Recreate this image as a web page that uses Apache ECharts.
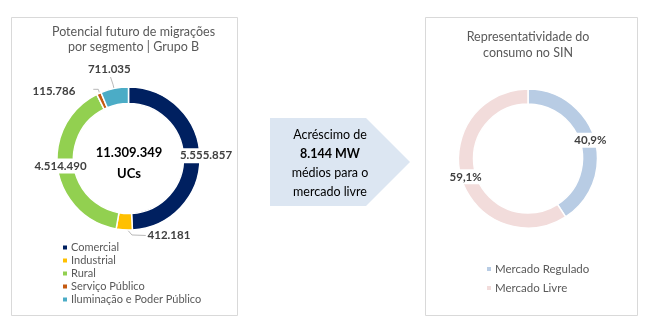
<!DOCTYPE html>
<html>
<head>
<meta charset="utf-8">
<script src="https://cdn.jsdelivr.net/npm/echarts@6/dist/echarts.min.js"></script>
<style>
html,body{margin:0;padding:0;background:#fff;}
#chart{width:648px;height:330px;}
</style>
</head>
<body>
<div id="chart"></div>
<script>
// ---- data ----
const segCategories = ['Comercial', 'Industrial', 'Rural', 'Serviço Público', 'Iluminação e Poder Público'];
const segValues = [5555857, 412181, 4514490, 115786, 711035];
const totalUnit = 'UCs';
const mktCategories = ['Mercado Regulado', 'Mercado Livre'];
const mktValues = [40.9, 59.1];
const arrowLines = ['Acréscimo de', '8.144 MW', 'médios para o', 'mercado livre'];
const titleLeft = ['Potencial futuro de migrações', 'por segmento | Grupo B'];
const titleRight = ['Representatividade do', 'consumo no SIN'];

// ---- styles ----
const segColors = ['#002060', '#FFC000', '#92D050', '#C55A11', '#4BACC6'];
const mktColors = ['#B8CCE4', '#F2DCDB'];
const FONT = 'Lato';
const C1 = [128.5, 158.5], R1 = [55, 71.5];
const C2 = [528, 158.5], R2 = [54.5, 69.5];

function fmt(v) { return String(v).replace(/\B(?=(\d{3})+(?!\d))/g, '.'); }
function polar(c, r, deg) { const a = deg * Math.PI / 180; return [c[0] + r * Math.sin(a), c[1] - r * Math.cos(a)]; }

const total = segValues.reduce((a, b) => a + b, 0);
const midAngles = [];
{ let cum = 0; segValues.forEach(v => { midAngles.push((cum + v / 2) / total * 360); cum += v; }); }

// label placement relative to the outer edge point at each slice's mid angle
const labelOff = [[6, -0.8], [44.7, 5.6], [2.8, -2.7], [-44.9, -2.4], [-5.2, -18.9]];
const lineSpec = [null,
  { r: 68, pts: [[7.7, 5.1], [21.5, 5.6]] },
  null,
  { r: 65, pts: [[-0.6, -4.1], [-5.6, -4.1]] },
  { r: 62, pts: [[-1.5, -4], [-4, -11.5]] }];

const segData = segCategories.map((n, i) => ({
  name: n, value: segValues[i],
  itemStyle: { color: segColors[i] },
  labelLine: { show: !!lineSpec[i] }
}));
const mktData = mktCategories.map((n, i) => ({ name: n, value: mktValues[i], itemStyle: { color: mktColors[i] } }));

const chart = echarts.init(document.getElementById('chart'), null, { renderer: 'canvas' });
chart.setOption({
  animation: false,
  backgroundColor: '#fff',
  textStyle: { fontFamily: FONT },
  title: [
    { text: titleLeft.join('\n'), left: 133.5, top: 24, textAlign: 'center', padding: 0,
      textStyle: { fontFamily: FONT, fontSize: 12.5, fontWeight: 'normal', color: '#595959', lineHeight: 15 } },
    { text: titleRight.join('\n'), left: 528, top: 29, textAlign: 'center', padding: 0,
      textStyle: { fontFamily: FONT, fontSize: 12.5, fontWeight: 'normal', color: '#595959', lineHeight: 16 } }
  ],
  legend: [
    { data: segCategories, orient: 'vertical', left: 61, top: 242, icon: 'rect', itemWidth: 6, itemHeight: 6,
      itemGap: 2, selectedMode: false, padding: 0,
      textStyle: { fontFamily: FONT, fontSize: 11, color: '#595959', lineHeight: 11, padding: [0, 0, 0, -2] } },
    { data: mktCategories, orient: 'vertical', left: 485, top: 263, icon: 'rect', itemWidth: 6, itemHeight: 6,
      itemGap: 7, selectedMode: false, padding: 0,
      textStyle: { fontFamily: FONT, fontSize: 11.5, color: '#595959', lineHeight: 11, padding: [0, 0, 0, -2] } }
  ],
  graphic: [
    { type: 'rect', z: -10, shape: { x: 11.5, y: 17.5, width: 226, height: 298 },
      style: { fill: '#fff', stroke: '#D9D9D9', lineWidth: 1 } },
    { type: 'rect', z: -10, shape: { x: 425.5, y: 17.5, width: 212, height: 298 },
      style: { fill: '#fff', stroke: '#D9D9D9', lineWidth: 1 } },
    { type: 'polygon', z: -10, shape: { points: [[270, 118], [366, 118], [410, 162], [366, 206], [270, 206]] },
      style: { fill: '#DCE6F2' } },
    { type: 'text', z: 10, x: 330, y: 163.5,
      style: {
        text: arrowLines.map((t, i) => (i === 1 ? '{b|' + t + '}' : '{n|' + t + '}')).join('\n'),
        align: 'center', verticalAlign: 'middle',
        rich: {
          n: { fontFamily: FONT, fontSize: 12.5, color: '#262626', lineHeight: 19, align: 'center' },
          b: { fontFamily: FONT, fontSize: 12.5, fontWeight: 'bold', color: '#262626', lineHeight: 19, align: 'center' }
        }
      } },
    { type: 'text', z: 10, x: C1[0] + 0.5, y: 163,
      style: {
        text: '{b|' + fmt(total) + '}\n{b|' + totalUnit + '}',
        align: 'center', verticalAlign: 'middle',
        rich: { b: { fontFamily: FONT, fontSize: 13, fontWeight: 'bold', color: '#262626', lineHeight: 21, align: 'center' } }
      } }
  ],
  series: [
    {
      type: 'pie', center: C1, radius: R1, startAngle: 90, clockwise: true,
      avoidLabelOverlap: false, silent: true,
      itemStyle: { borderColor: '#fff', borderWidth: 1.5 },
      label: { show: true, position: 'outside', formatter: p => fmt(p.value),
        fontFamily: FONT, fontSize: 11.5, fontWeight: 'bold', color: '#404040',
        backgroundColor: '#fff', padding: [2, 1, 1, 1] },
      labelLine: { show: true, length: 5, length2: 5, lineStyle: { color: '#A6A6A6', width: 0.8 } },
      labelLayout: function (params) {
        const i = params.dataIndex;
        const anchor = polar(C1, R1[1], midAngles[i]);
        const res = { x: anchor[0] + labelOff[i][0], y: anchor[1] + labelOff[i][1], align: 'center', verticalAlign: 'middle' };
        const ls = lineSpec[i];
        if (ls) {
          res.labelLinePoints = [polar(C1, ls.r, midAngles[i])].concat(ls.pts.map(p => [anchor[0] + p[0], anchor[1] + p[1]]));
        }
        return res;
      },
      data: segData
    },
    {
      type: 'pie', center: C2, radius: R2, startAngle: 90, clockwise: true,
      avoidLabelOverlap: false, silent: true,
      itemStyle: { borderColor: '#fff', borderWidth: 1.5 },
      label: { show: true, position: 'inside', formatter: p => String(p.value).replace('.', ',') + '%',
        fontFamily: FONT, fontSize: 11.5, fontWeight: 'bold', color: '#404040',
        backgroundColor: '#fff', padding: [2, 1, 1, 1] },
      labelLine: { show: false },
      data: mktData
    }
  ]
});
</script>
</body>
</html>
